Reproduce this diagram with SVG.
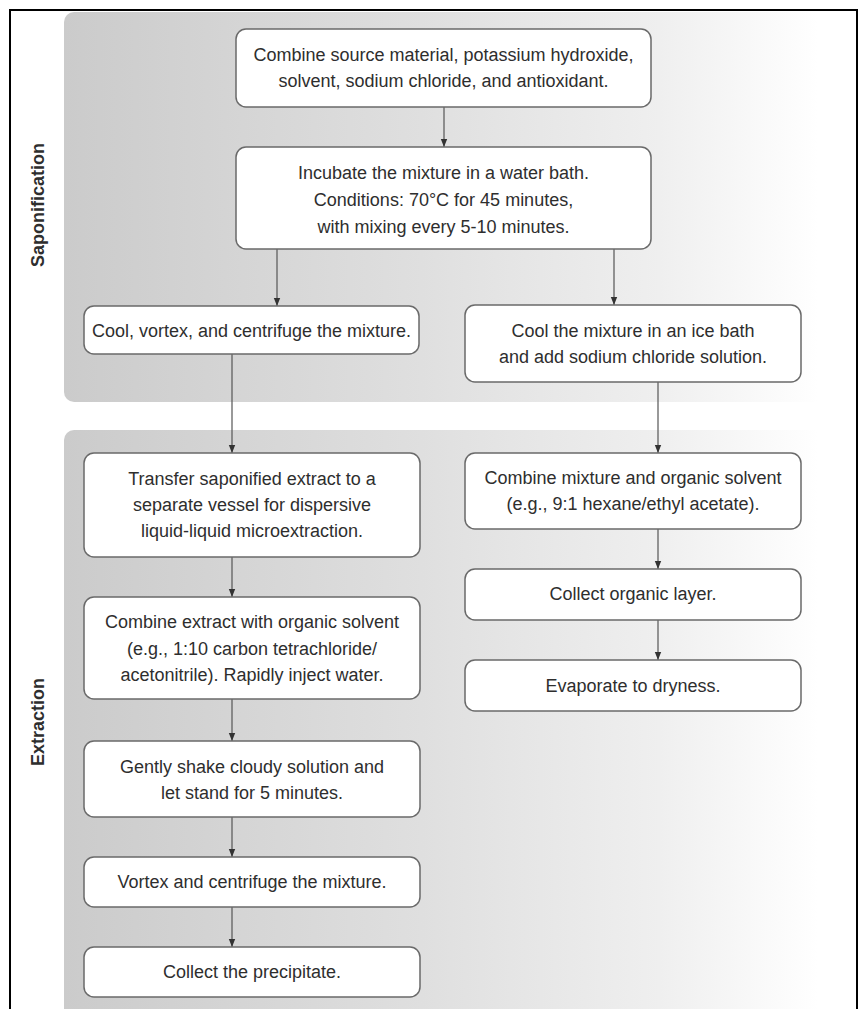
<svg xmlns="http://www.w3.org/2000/svg" width="860" height="1009" viewBox="0 0 860 1009">
<defs>
<linearGradient id="panelGrad" x1="0" y1="0" x2="1" y2="0">
<stop offset="0" stop-color="#cbcbcb"/>
<stop offset="0.45" stop-color="#dfdfdf"/>
<stop offset="0.75" stop-color="#efefef"/>
<stop offset="0.95" stop-color="#ffffff"/>
</linearGradient>
<marker id="arr" markerUnits="userSpaceOnUse" markerWidth="8" markerHeight="8" viewBox="0 0 8 8" refX="8" refY="4" orient="auto">
<path d="M0,0.8 L8,4 L0,7.2 Z" fill="#333"/>
</marker>
<style>
.box{fill:#fff;stroke:#6a6a6a;stroke-width:1.5}
.t{font-family:"Liberation Sans",Arial,sans-serif;font-size:18px;fill:#2e2e2e;text-anchor:middle}
.lab{font-family:"Liberation Sans",Arial,sans-serif;font-size:18px;font-weight:bold;fill:#2e2e2e;text-anchor:middle}
.c{fill:none;stroke:#555;stroke-width:1.2}
.ca{fill:none;stroke:#555;stroke-width:1.2;marker-end:url(#arr)}
</style>
</defs>
<rect x="0" y="0" width="860" height="1009" fill="#fff"/>
<g id="panels">
<rect x="64" y="12" width="794" height="390" rx="10" fill="url(#panelGrad)"/>
<rect x="64" y="430" width="794" height="600" rx="10" fill="url(#panelGrad)"/>
</g>
<rect x="10" y="10" width="847" height="1020" fill="none" stroke="#000" stroke-width="2"/>
<g id="labels">
<text class="lab" transform="translate(44,205) rotate(-90)">Saponification</text>
<text class="lab" transform="translate(44,722) rotate(-90)">Extraction</text>
</g>
<g id="connectors">
<path class="ca" d="M444,107 V147"/>
<path class="ca" d="M277,249 V306"/>
<path class="ca" d="M614,249 V305"/>
<path class="ca" d="M232,354 V453"/>
<path class="ca" d="M658,382 V453"/>
<path class="ca" d="M232,557 V597"/>
<path class="ca" d="M232,699 V741"/>
<path class="ca" d="M232,817 V857"/>
<path class="ca" d="M232,907 V947"/>
<path class="ca" d="M658,529 V569"/>
<path class="ca" d="M658,620 V660"/>
</g>
<g id="n1"><rect class="box" x="236" y="29" width="415" height="78" rx="10"/>
<text class="t" x="443.5" y="61">Combine source material, potassium hydroxide,</text>
<text class="t" x="443.5" y="87">solvent, sodium chloride, and antioxidant.</text></g>
<g id="n2"><rect class="box" x="236" y="147" width="415" height="102" rx="10"/>
<text class="t" x="443.5" y="179">Incubate the mixture in a water bath.</text>
<text class="t" x="443.5" y="206">Conditions: 70°C for 45 minutes,</text>
<text class="t" x="443.5" y="233">with mixing every 5-10 minutes.</text></g>
<g id="n3"><rect class="box" x="84" y="306" width="335" height="48" rx="10"/>
<text class="t" x="251.5" y="337">Cool, vortex, and centrifuge the mixture.</text></g>
<g id="n4"><rect class="box" x="465" y="305" width="336" height="77" rx="10"/>
<text class="t" x="633" y="337">Cool the mixture in an ice bath</text>
<text class="t" x="633" y="363">and add sodium chloride solution.</text></g>
<g id="n5"><rect class="box" x="84" y="453" width="336" height="104" rx="10"/>
<text class="t" x="252" y="485">Transfer saponified extract to a</text>
<text class="t" x="252" y="511">separate vessel for dispersive</text>
<text class="t" x="252" y="537">liquid-liquid microextraction.</text></g>
<g id="n6"><rect class="box" x="84" y="597" width="336" height="102" rx="10"/>
<text class="t" x="252" y="628">Combine extract with organic solvent</text>
<text class="t" x="252" y="655">(e.g., 1:10 carbon tetrachloride/</text>
<text class="t" x="252" y="681">acetonitrile). Rapidly inject water.</text></g>
<g id="n7"><rect class="box" x="84" y="741" width="336" height="76" rx="10"/>
<text class="t" x="252" y="773">Gently shake cloudy solution and</text>
<text class="t" x="252" y="799">let stand for 5 minutes.</text></g>
<g id="n8"><rect class="box" x="84" y="857" width="336" height="50" rx="10"/>
<text class="t" x="252" y="888">Vortex and centrifuge the mixture.</text></g>
<g id="n9"><rect class="box" x="84" y="947" width="336" height="50" rx="10"/>
<text class="t" x="252" y="978">Collect the precipitate.</text></g>
<g id="n10"><rect class="box" x="465" y="453" width="336" height="76" rx="10"/>
<text class="t" x="633" y="484">Combine mixture and organic solvent</text>
<text class="t" x="633" y="510">(e.g., 9:1 hexane/ethyl acetate).</text></g>
<g id="n11"><rect class="box" x="465" y="569" width="336" height="51" rx="10"/>
<text class="t" x="633" y="600">Collect organic layer.</text></g>
<g id="n12"><rect class="box" x="465" y="660" width="336" height="51" rx="10"/>
<text class="t" x="633" y="692">Evaporate to dryness.</text></g>
</svg>
